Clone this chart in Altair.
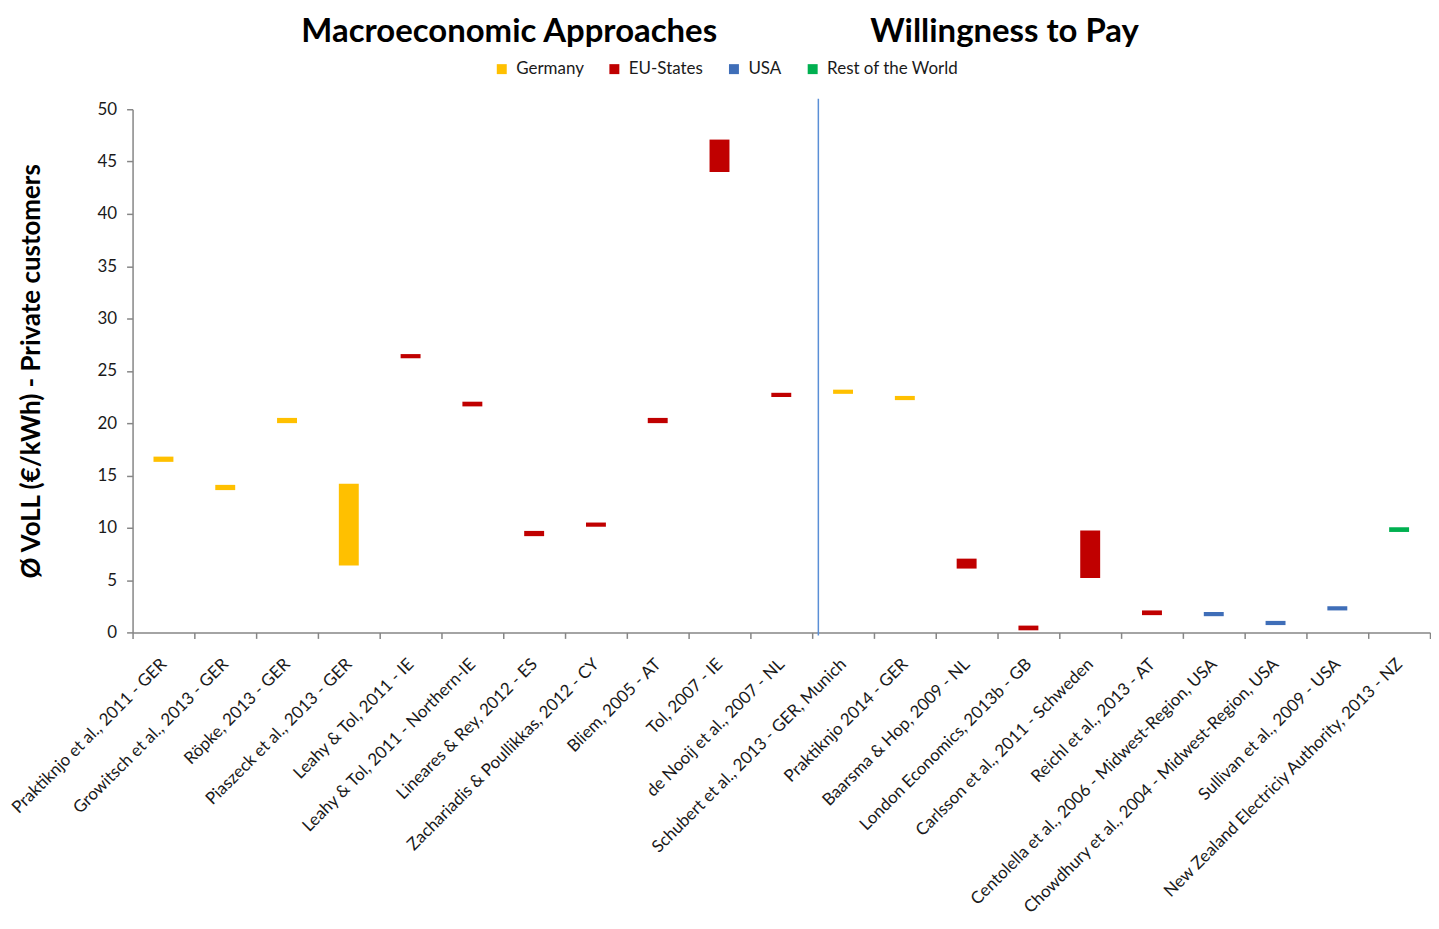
import altair as alt
import pandas as pd

studies = [
    "Praktiknjo et al., 2011 - GER",
    "Growitsch et al., 2013 - GER",
    "Röpke, 2013 - GER",
    "Piaszeck et al., 2013 - GER",
    "Leahy & Tol, 2011 - IE",
    "Leahy & Tol, 2011 - Northern-IE",
    "Lineares & Rey, 2012 - ES",
    "Zachariadis & Poullikkas, 2012 - CY",
    "Bliem, 2005 - AT",
    "Tol, 2007 - IE",
    "de Nooij et al., 2007 - NL",
    "Schubert et al., 2013 - GER, Munich",
    "Praktiknjo 2014 - GER",
    "Baarsma & Hop, 2009 - NL",
    "London Economics, 2013b - GB",
    "Carlsson et al., 2011 - Schweden",
    "Reichl et al., 2013 - AT",
    "Centolella et al., 2006 - Midwest-Region, USA",
    "Chowdhury et al., 2004 - Midwest-Region, USA",
    "Sullivan et al., 2009 - USA",
    "New Zealand Electriciy Authority, 2013 - NZ",
]
regions = [
    "Germany", "Germany", "Germany", "Germany",
    "EU-States", "EU-States", "EU-States", "EU-States", "EU-States", "EU-States", "EU-States",
    "Germany", "Germany",
    "EU-States", "EU-States", "EU-States", "EU-States",
    "USA", "USA", "USA",
    "Rest of the World",
]
low = [16.3, 13.6, 20.0, 6.4, 26.2, 21.6, 9.2, 10.1, 20.0, 44.0, 22.5,
       22.8, 22.2, 6.1, 0.2, 5.2, 1.65, 1.55, 0.7, 2.1, 9.6]
high = [16.8, 14.1, 20.5, 14.2, 26.6, 22.05, 9.7, 10.5, 20.5, 47.1, 22.9,
        23.2, 22.6, 7.05, 0.65, 9.75, 2.1, 1.95, 1.1, 2.5, 10.05]

legend_order = ["Germany", "EU-States", "USA", "Rest of the World"]
legend_colors = ["#FFC000", "#C00000", "#3F6EB8", "#00B050"]
section_titles = ["Macroeconomic Approaches", "Willingness to Pay"]
divider_before = ["Schubert et al., 2013 - GER, Munich"]
y_ticks = [0, 5, 10, 15, 20, 25, 30, 35, 40, 45, 50]

FONT = "Lato"
AXIS_GRAY = "#868686"
TEXT = "#1a1a1a"

df = pd.DataFrame({"study": studies, "region": regions, "low": low, "high": high})

x_enc = alt.X(
    "study:N", sort=studies, title=None,
    scale=alt.Scale(paddingInner=0, paddingOuter=0),
    axis=alt.Axis(
        labelAngle=-45, labelAlign="right", labelBaseline="middle",
        labelFont=FONT, labelFontSize=17, labelColor=TEXT, labelPadding=23,
        labelLimit=1000, tickBand="extent", tickSize=6, tickColor=AXIS_GRAY,
        domainColor=AXIS_GRAY, domainWidth=1.5, tickWidth=1.5,
    ),
)
y_scale = alt.Scale(domain=[0, 50], nice=False, zero=True)
y_axis = alt.Axis(
    values=y_ticks, grid=False, tickSize=6, tickColor=AXIS_GRAY, tickWidth=1.5,
    domainColor=AXIS_GRAY, domainWidth=1.5,
    labelFont=FONT, labelFontSize=17, labelColor=TEXT, labelPadding=10,
    titleFont=FONT, titleFontSize=26, titleFontWeight="bold", titleColor="black",
    titlePadding=53,
)

bars = alt.Chart(df).mark_bar(size=20).encode(
    x=x_enc,
    y=alt.Y("low:Q", scale=y_scale, axis=y_axis, title="Ø VoLL (€/kWh) - Private customers"),
    y2="high:Q",
    color=alt.Color(
        "region:N",
        scale=alt.Scale(domain=legend_order, range=legend_colors),
        legend=alt.Legend(
            title=None, orient="none", legendX=362, legendY=-49, direction="horizontal",
            symbolType="square", symbolSize=100, symbolStrokeWidth=0,
            labelFont=FONT, labelFontSize=17, labelColor=TEXT, columnPadding=22, labelOffset=6,
        ),
    ),
)

divider = alt.Chart(pd.DataFrame({"study": divider_before})).mark_rule(
    color="#5B8FD6", strokeWidth=1.5
).encode(
    x=alt.X("study:N", sort=studies, bandPosition=0.1),
    y=alt.datum(51),
    y2=alt.datum(-0.3),
)

title_left = alt.Chart(pd.DataFrame({"t": [section_titles[0]]})).mark_text(
    font=FONT, fontSize=33, fontWeight="bold", baseline="top", align="center", color="black"
).encode(text="t:N", x=alt.value(378), y=alt.value(-93))

title_right = alt.Chart(pd.DataFrame({"t": [section_titles[1]]})).mark_text(
    font=FONT, fontSize=33, fontWeight="bold", baseline="top", align="center", color="black"
).encode(text="t:N", x=alt.value(875), y=alt.value(-93))

chart = alt.layer(bars, divider, title_left, title_right).properties(
    width=1302, height=525,
    padding={"left": 0, "top": 7, "right": 0, "bottom": 0},
).configure_view(stroke=None)

chart.save("out.html", embed_options={"renderer": "svg", "actions": False})
